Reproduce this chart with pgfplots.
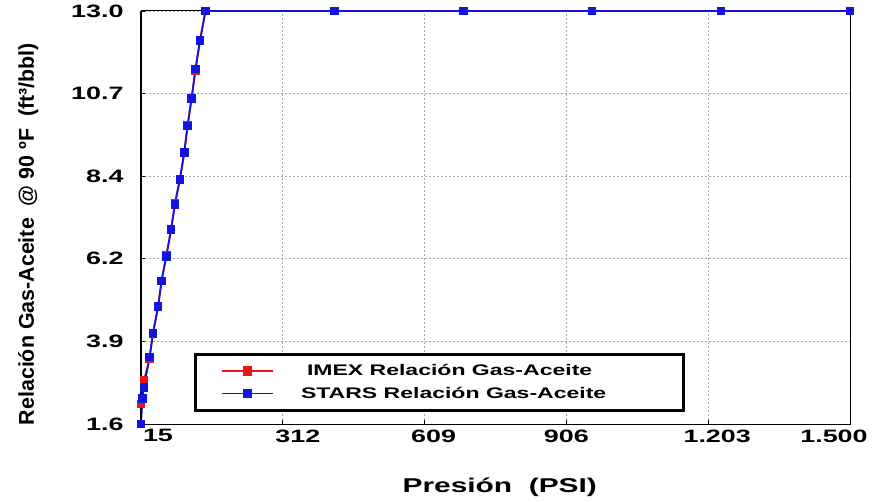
\documentclass[border=0pt]{standalone}
\usepackage{graphicx}
\usepackage{fontspec}
\setmainfont{Liberation Sans}
\usepackage{pgfplots}
\pgfplotsset{compat=1.18}
\newcommand\sx[1]{\scalebox{1.5}[1]{#1}}
\definecolor{imexred}{RGB}{235,20,20}
\definecolor{starsblue}{RGB}{20,20,225}
\begin{document}
\begin{tikzpicture}
\useasboundingbox (0,0) rectangle (872bp,502bp);
\begin{axis}[
  at={(141bp,78bp)}, anchor=south west,
  width=709bp, height=413bp, scale only axis,
  xmin=15, xmax=1500, ymin=1.6, ymax=13.0,
  clip=false,
  xtick={15,312,609,906,1203,1500},
  xticklabels={\hspace*{34bp}\sx{15},\hspace*{30bp}\sx{312},\hspace*{18bp}\sx{609},\sx{906},\hspace*{18bp}\sx{1.203},\sx{1.500}\hspace*{32bp}},
  ytick={1.6,3.88,6.16,8.44,10.72,13.0},
  yticklabels={\sx{1.6},\sx{3.9},\sx{6.2},\sx{8.4},\sx{10.7},\sx{13.0}},
  ticklabel style={font=\bfseries\fontsize{18}{20}\selectfont},
  xtick pos=bottom, ytick pos=left, tick align=inside,
  major tick length=4bp,
  tick style={black, line width=0.8bp},
  xticklabel style={yshift=-2bp},
  yticklabel style={xshift=-14bp},
  grid=major,
  major grid style={gray!70, line width=0.8bp, dash pattern=on 2bp off 2bp},
  axis line style={black, line width=1bp},
  xlabel={\sx{Presión\ \ (PSI)}},
  xlabel style={font=\bfseries\fontsize{20}{22}\selectfont, at={(axis description cs:0.506,-0.153)}, anchor=center},
  ylabel={Relación Gas-Aceite\ \ @ 90 ºF\ \ (ft³/bbl)},
  ylabel style={font=\bfseries\fontsize{21.5}{23}\selectfont, at={(axis description cs:-0.159,0.46)}, anchor=center},
  legend style={at={(0.0748,0.029)}, anchor=south west, draw=black, line width=3bp,
    inner xsep=0bp, inner ysep=9bp, row sep=7bp,
    font=\bfseries\fontsize{15.4}{16}\selectfont,
    nodes={inner sep=1.5bp}},
  legend cell align=left,
  legend image code/.code={
    \path[draw=none] (0bp,-3bp) rectangle (80bp,3bp);
    \draw[#1, line width=1.6bp, mark=none] (26bp,0bp) -- (77bp,0bp);
    \draw[#1, line width=1.6bp, only marks, mark size=4bp] plot coordinates {(52bp,0bp)};
  },
]
\addplot[imexred, line width=1.8bp, mark=square*, mark size=3.4bp] coordinates {
(15,2.15) (21,2.8) (33,3.4) (40,4.1) (51,4.85) (58,5.55) (68,6.25) (78,6.95)
(86,7.7) (96.5,8.35) (105.6,9.1) (112.6,9.85) (121,10.6) (129,11.35) (138.6,12.2)
(150,13.0) (420,13.0) (690,13.0) (960,13.0) (1230,13.0) (1500,13.0)
};
\addlegendentry{\makebox[405bp][l]{\hspace{30bp}\sx{IMEX Relación Gas-Aceite}}}
\addplot[starsblue, line width=1.8bp, mark=square*, mark size=3.4bp] coordinates {
(15,1.6) (18,2.3) (21,2.6) (33,3.45) (40,4.1) (51,4.85) (58,5.55) (68,6.23) (78,6.97)
(86,7.66) (96.5,8.35) (105.6,9.09) (112.6,9.83) (121,10.58) (129,11.4) (138.6,12.18)
(150,13.0) (420,13.0) (690,13.0) (960,13.0) (1230,13.0) (1500,13.0)
};
\addlegendentry{\makebox[405bp][l]{\hspace{24bp}\sx{STARS Relación Gas-Aceite}}}
\draw[black, line width=2.5bp] (rel axis cs:0,0) -- (rel axis cs:0,1);
\end{axis}
\end{tikzpicture}
\end{document}
